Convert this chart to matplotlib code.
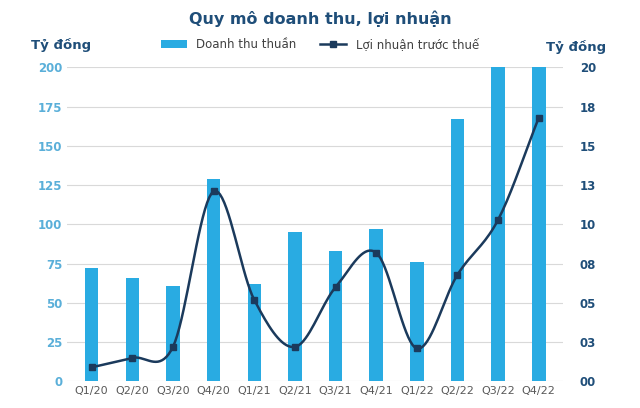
import numpy as np
import matplotlib.pyplot as plt
from matplotlib.ticker import FixedLocator, FixedFormatter

quarters = ["Q1/20", "Q2/20", "Q3/20", "Q4/20", "Q1/21", "Q2/21", "Q3/21",
            "Q4/21", "Q1/22", "Q2/22", "Q3/22", "Q4/22"]
revenue = [72, 66, 61, 129, 62, 95, 83, 97, 76, 167, 230, 250]
profit = [0.9, 1.5, 2.2, 12.1, 5.2, 2.2, 6.0, 8.2, 2.1, 6.8, 10.3, 16.8]

bar_color = "#29abe2"
line_color = "#1b3a5c"
text_color = "#1f4e79"
left_color = "#5aafd9"


def catmull(x, y, n=20):
    # smooth curve through the points, like excel's smoothed line
    x = np.asarray(x, float)
    y = np.asarray(y, float)
    px = np.concatenate([[2 * x[0] - x[1]], x, [2 * x[-1] - x[-2]]])
    py = np.concatenate([[2 * y[0] - y[1]], y, [2 * y[-1] - y[-2]]])
    xs, ys = [], []
    for i in range(1, len(px) - 2):
        t = np.linspace(0, 1, n)
        for p, out in ((px, xs), (py, ys)):
            p0, p1, p2, p3 = p[i - 1:i + 3]
            out.extend(0.5 * (2 * p1 + (-p0 + p2) * t
                              + (2 * p0 - 5 * p1 + 4 * p2 - p3) * t ** 2
                              + (-p0 + 3 * p1 - 3 * p2 + p3) * t ** 3))
    return xs, ys


fig = plt.figure(figsize=(6.4, 4.08), dpi=100)
ax = fig.add_axes([0.105, 0.065, 0.775, 0.77])
ax2 = ax.twinx()

x = np.arange(len(quarters))
bars = ax.bar(x, revenue, width=0.33, color=bar_color, label="Doanh thu thuần", zorder=2)
ax.set_ylim(0, 200)
ax.set_xlim(-0.6, len(quarters) - 0.4)
ax.set_yticks(np.arange(0, 201, 25))
ax.grid(axis="y", color="#d9d9d9", lw=0.8, zorder=0)
ax.set_xticks(x)
ax.set_xticklabels(quarters)

sx, sy = catmull(x, profit)
ax2.plot(sx, sy, color=line_color, lw=1.8, zorder=3)
ax2.plot(x, profit, ls="none", marker="s", ms=5, color=line_color, zorder=4)
ln, = ax2.plot([], [], color=line_color, lw=1.8, marker="s", ms=5, label="Lợi nhuận trước thuế")
ax2.set_ylim(0, 20)
rt = np.arange(0, 20.01, 2.5)
ax2.yaxis.set_major_locator(FixedLocator(rt))
ax2.yaxis.set_major_formatter(FixedFormatter(["%02d" % round(v + 0.01) for v in rt]))

for a in (ax, ax2):
    for s in a.spines.values():
        s.set_visible(False)
    a.tick_params(length=0, labelsize=8.5, colors="#333333")
ax.tick_params(axis="y", labelcolor=left_color)
ax2.tick_params(axis="y", labelcolor=text_color, pad=12)
for lab in ax.get_yticklabels() + ax2.get_yticklabels():
    lab.set_fontweight("bold")
ax.tick_params(axis="x", labelsize=8, colors="#595959")

fig.text(0.5, 0.955, "Quy mô doanh thu, lợi nhuận", ha="center", va="center",
         fontsize=11.5, fontweight="bold", color=text_color)
fig.text(0.095, 0.88, "Tỷ đồng", ha="center", fontsize=9.5, fontweight="bold", color=text_color)
fig.text(0.9, 0.875, "Tỷ đồng", ha="center", fontsize=9.5, fontweight="bold", color=text_color)
leg = fig.legend(handles=[bars, ln], loc="center", bbox_to_anchor=(0.5, 0.89), ncol=2,
                 frameon=False, fontsize=8.5, handlelength=2.2, columnspacing=2)
for t in leg.get_texts():
    t.set_color("#404040")

fig.savefig("out.png", dpi=100)
